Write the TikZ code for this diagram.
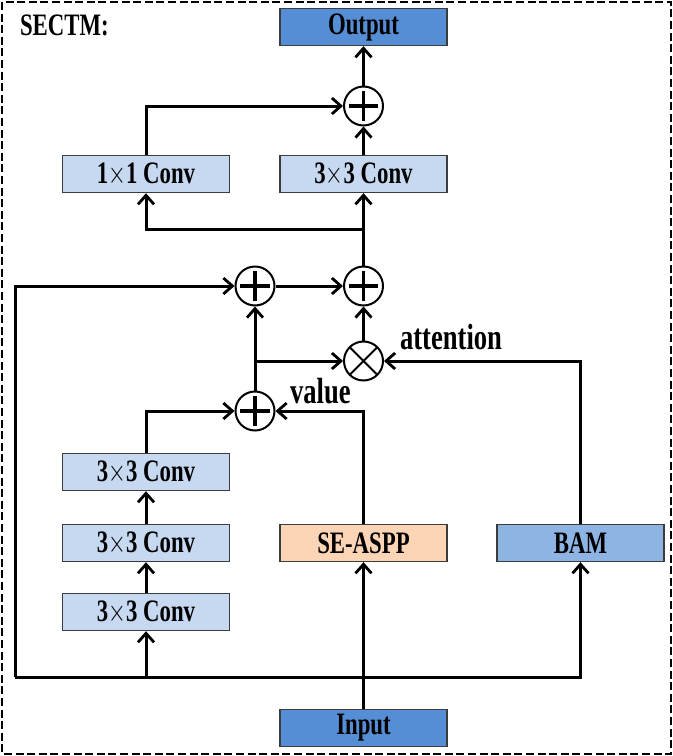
\documentclass[tikz,border=0pt]{standalone}
\usepackage{fontspec}
\setmainfont{Liberation Serif}
\usepackage{xcolor}
\usepackage{tikz}
\usetikzlibrary{arrows.meta, positioning, calc}
\definecolor{SECBlue}{RGB}{85, 142, 213}
\definecolor{SECMid}{RGB}{142, 180, 227}
\definecolor{SECLight}{RGB}{198, 217, 241}
\definecolor{SECPeach}{RGB}{251, 213, 181}
\definecolor{SECEdge}{RGB}{60, 60, 60}
\newcommand{\tallbox}[1]{\scalebox{0.95}[1.3]{#1}}

\begin{document}
\begin{tikzpicture}[x=0.5pt,y=-0.5pt,
    blk/.style={draw=SECEdge, line width=0.7pt, minimum width=83.5pt, minimum height=18.5pt,
      inner sep=0pt, font=\fontsize{12}{14}\selectfont\bfseries},
    addop/.style={circle, draw, line width=1pt, minimum size=19.5pt, inner sep=0pt,
      path picture={\draw[line width=1.8pt] ($(path picture bounding box.north)!0.12!(path picture bounding box.south)$) -- ($(path picture bounding box.north)!0.88!(path picture bounding box.south)$)
        ($(path picture bounding box.west)!0.12!(path picture bounding box.east)$) -- ($(path picture bounding box.west)!0.88!(path picture bounding box.east)$);}},
    mulop/.style={circle, draw, line width=1pt, minimum size=19.5pt, inner sep=0pt,
      path picture={\draw[line width=1pt] (path picture bounding box.north west) -- (path picture bounding box.south east)
        (path picture bounding box.north east) -- (path picture bounding box.south west);}},
    flow/.style={line width=1.5pt, -{Straight Barb[length=4.5pt, width=8pt, line width=1.4pt]}},
    lbl/.style={font=\fontsize{14}{16}\selectfont\bfseries}]
  \path[use as bounding box] (0,0) rectangle (673,756);
  \draw[line width=1pt, dash pattern=on 4pt off 1.8pt] (2,2) rectangle (671,754);
  \node[anchor=west, font=\fontsize{12}{14}\selectfont\bfseries] (title) at (13,25) {\tallbox{SECTM:}};

  % top part
  \node[blk, fill=SECBlue] (out) at (363.5,27) {\tallbox{Output}};
  \node[addop] (addT) at (363.5,106) {};
  \node[blk, fill=SECLight] (conv11) at (146,174) {\tallbox{1$\times$1 Conv}};
  \node[blk, fill=SECLight] (conv33) at (363.5,174) {\tallbox{3$\times$3 Conv}};

  % fusion
  \node[addop] (addL) at (255,286) {};
  \node[addop] (addM) at (363.5,286) {};
  \node[mulop] (mul) at (363.5,361) {};
  \node[addop] (addV) at (255,411) {};
  \node[lbl, anchor=west] (att) at (393,337) {\tallbox{attention}};
  \node[lbl, anchor=west] (val) at (283,391) {\tallbox{value}};

  % branches
  \node[blk, fill=SECLight] (convA) at (146,472) {\tallbox{3$\times$3 Conv}};
  \node[blk, fill=SECLight] (convB) at (146,543) {\tallbox{3$\times$3 Conv}};
  \node[blk, fill=SECLight] (convC) at (146,612) {\tallbox{3$\times$3 Conv}};
  \node[blk, fill=SECPeach] (aspp) at (363.5,543) {\tallbox{SE-ASPP}};
  \node[blk, fill=SECMid] (bam) at (580.5,543) {\tallbox{BAM}};
  \node[blk, fill=SECBlue] (inp) at (363.5,728) {\tallbox{Input}};

  \coordinate (jL) at (15,677);
  \coordinate (jC) at (146,677);
  \coordinate (jV) at (255,361);
  \coordinate (jT) at (363.5,229);

  % connectors
  \draw[flow] (inp.north) -- (aspp.south);
  \draw[flow] (jL) -| (bam.south);
  \draw[flow] (jC) -- (convC.south);
  \draw[flow] (jL) |- (addL.west);
  \draw[flow] (convC) -- (convB);
  \draw[flow] (convB) -- (convA);
  \draw[flow] (convA.north) |- (addV.west);
  \draw[flow] (aspp.north) |- (addV.east);
  \draw[flow] (addV) -- (addL);
  \draw[flow] (jV) -- (mul.west);
  \draw[flow] (bam.north) |- (mul.east);
  \draw[flow] (mul) -- (addM);
  \draw[flow] (addL) -- (addM);
  \draw[flow] (addM) -- (conv33);
  \draw[flow] (jT) -| (conv11.south);
  \draw[flow] (conv33) -- (addT);
  \draw[flow] (conv11.north) |- (addT.west);
  \draw[flow] (addT) -- (out);
\end{tikzpicture}
\end{document}
